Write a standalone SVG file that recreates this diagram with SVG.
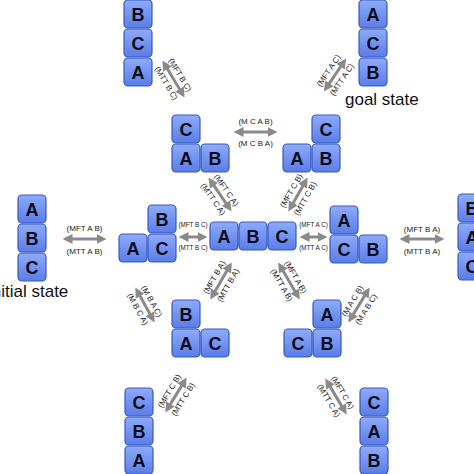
<svg xmlns="http://www.w3.org/2000/svg" width="474" height="474" viewBox="0 0 474 474">
<style>
.blk{fill:url(#bg);stroke:#3a58c0;stroke-width:1.2}
.lt{font-family:"Liberation Sans",Arial,sans-serif;font-weight:bold;font-size:18px;fill:#0d0d1a;text-anchor:middle}
.arr{stroke:#8a8a8a;stroke-width:3;fill:none;marker-start:url(#ah);marker-end:url(#ah)}
.lb{font-family:"Liberation Sans",Arial,sans-serif;font-size:8px;fill:#1a1a1a;text-anchor:middle}
.sm{font-size:6.3px}
.st{font-family:"Liberation Sans",Arial,sans-serif;font-size:17px;fill:#111}
</style>
<defs>
<linearGradient id="bg" x1="0" y1="0" x2="0" y2="1">
<stop offset="0" stop-color="#8eabfa"/>
<stop offset="1" stop-color="#5a7de6"/>
</linearGradient>
<marker id="ah" markerUnits="userSpaceOnUse" viewBox="0 0 10 10" refX="0.5" refY="5" markerWidth="10" markerHeight="10" orient="auto-start-reverse">
<path d="M0,0 L10,5 L0,10 z" fill="#8a8a8a"/>
</marker>
</defs>
<rect width="474" height="474" fill="#fff"/>

<g id="s-BCA-top">
<rect class="blk" x="124" y="0" width="28" height="28" rx="4"/><text class="lt" x="138" y="20.5">B</text>
<rect class="blk" x="124" y="29" width="28" height="28" rx="4"/><text class="lt" x="138" y="49.5">C</text>
<rect class="blk" x="124" y="58" width="28" height="28" rx="4"/><text class="lt" x="138" y="78.5">A</text>
</g>
<g id="s-ACB-goal">
<rect class="blk" x="359" y="0" width="28" height="28" rx="4"/><text class="lt" x="373" y="20.5">A</text>
<rect class="blk" x="359" y="29" width="28" height="28" rx="4"/><text class="lt" x="373" y="49.5">C</text>
<rect class="blk" x="359" y="58" width="28" height="28" rx="4"/><text class="lt" x="373" y="78.5">B</text>
<text class="st" x="345" y="105">goal state</text>
</g>
<g id="s-CA-B">
<rect class="blk" x="172" y="115" width="28" height="28" rx="4"/><text class="lt" x="186" y="135.5">C</text>
<rect class="blk" x="172" y="144" width="28" height="28" rx="4"/><text class="lt" x="186" y="164.5">A</text>
<rect class="blk" x="201" y="144" width="28" height="28" rx="4"/><text class="lt" x="215" y="164.5">B</text>
</g>
<g id="s-A-CB">
<rect class="blk" x="312" y="115" width="28" height="28" rx="4"/><text class="lt" x="326" y="135.5">C</text>
<rect class="blk" x="283" y="144" width="28" height="28" rx="4"/><text class="lt" x="297" y="164.5">A</text>
<rect class="blk" x="312" y="144" width="28" height="28" rx="4"/><text class="lt" x="326" y="164.5">B</text>
</g>
<g id="s-ABC-initial">
<rect class="blk" x="18" y="195" width="28" height="28" rx="4"/><text class="lt" x="32" y="215.5">A</text>
<rect class="blk" x="18" y="224" width="28" height="28" rx="4"/><text class="lt" x="32" y="244.5">B</text>
<rect class="blk" x="18" y="253" width="28" height="28" rx="4"/><text class="lt" x="32" y="273.5">C</text>
<text class="st" x="-12" y="297">initial state</text>
</g>
<g id="s-A-BC">
<rect class="blk" x="148" y="205" width="28" height="28" rx="4"/><text class="lt" x="162" y="225.5">B</text>
<rect class="blk" x="119" y="234" width="28" height="28" rx="4"/><text class="lt" x="133" y="254.5">A</text>
<rect class="blk" x="148" y="234" width="28" height="28" rx="4"/><text class="lt" x="162" y="254.5">C</text>
</g>
<g id="s-A-B-C">
<rect class="blk" x="210" y="222" width="28" height="28" rx="4"/><text class="lt" x="224" y="242.5">A</text>
<rect class="blk" x="239" y="222" width="28" height="28" rx="4"/><text class="lt" x="253" y="242.5">B</text>
<rect class="blk" x="268" y="222" width="28" height="28" rx="4"/><text class="lt" x="282" y="242.5">C</text>
</g>
<g id="s-AC-B">
<rect class="blk" x="330" y="206" width="28" height="28" rx="4"/><text class="lt" x="344" y="226.5">A</text>
<rect class="blk" x="330" y="235" width="28" height="28" rx="4"/><text class="lt" x="344" y="255.5">C</text>
<rect class="blk" x="359" y="235" width="28" height="28" rx="4"/><text class="lt" x="373" y="255.5">B</text>
</g>
<g id="s-BAC-right">
<rect class="blk" x="458" y="194" width="28" height="28" rx="4"/><text class="lt" x="472" y="214.5">B</text>
<rect class="blk" x="458" y="223" width="28" height="28" rx="4"/><text class="lt" x="472" y="243.5">A</text>
<rect class="blk" x="458" y="252" width="28" height="28" rx="4"/><text class="lt" x="472" y="272.5">C</text>
</g>
<g id="s-BA-C">
<rect class="blk" x="172" y="300" width="28" height="28" rx="4"/><text class="lt" x="186" y="320.5">B</text>
<rect class="blk" x="172" y="329" width="28" height="28" rx="4"/><text class="lt" x="186" y="349.5">A</text>
<rect class="blk" x="201" y="329" width="28" height="28" rx="4"/><text class="lt" x="215" y="349.5">C</text>
</g>
<g id="s-C-AB">
<rect class="blk" x="313" y="300" width="28" height="28" rx="4"/><text class="lt" x="327" y="320.5">A</text>
<rect class="blk" x="284" y="329" width="28" height="28" rx="4"/><text class="lt" x="298" y="349.5">C</text>
<rect class="blk" x="313" y="329" width="28" height="28" rx="4"/><text class="lt" x="327" y="349.5">B</text>
</g>
<g id="s-CBA-bottom">
<rect class="blk" x="125" y="388" width="28" height="28" rx="4"/><text class="lt" x="139" y="408.5">C</text>
<rect class="blk" x="125" y="417" width="28" height="28" rx="4"/><text class="lt" x="139" y="437.5">B</text>
<rect class="blk" x="125" y="446" width="28" height="28" rx="4"/><text class="lt" x="139" y="466.5">A</text>
</g>
<g id="s-CAB-bottom">
<rect class="blk" x="360" y="388" width="28" height="28" rx="4"/><text class="lt" x="374" y="408.5">C</text>
<rect class="blk" x="360" y="417" width="28" height="28" rx="4"/><text class="lt" x="374" y="437.5">A</text>
<rect class="blk" x="360" y="446" width="28" height="28" rx="4"/><text class="lt" x="374" y="466.5">B</text>
</g>

<g id="connectors">
<g transform="translate(173.5,79) rotate(58.8)"><line class="arr" x1="-12" y1="0" x2="12" y2="0"/><text class="lb" y="-5">(MFT B C)</text><text class="lb" y="11">(MTT B C)</text></g>
<g transform="translate(335,75) rotate(-56)"><line class="arr" x1="-10.5" y1="0" x2="10.5" y2="0"/><text class="lb" y="-5">(MFT A C)</text><text class="lb" y="11">(MTT A C)</text></g>
<g transform="translate(255.5,132)"><line class="arr" x1="-12.5" y1="0" x2="12.5" y2="0"/><text class="lb" y="-8">(M C A B)</text><text class="lb" y="14">(M C B A)</text></g>
<g transform="translate(220,194.5) rotate(55.6)"><line class="arr" x1="-11" y1="0" x2="11" y2="0"/><text class="lb" y="-5">(MFT C A)</text><text class="lb" y="11">(MTT C A)</text></g>
<g transform="translate(298,194.5) rotate(-60.3)"><line class="arr" x1="-10" y1="0" x2="10" y2="0"/><text class="lb" y="-5">(MFT C B)</text><text class="lb" y="11">(MTT C B)</text></g>
<g transform="translate(84.5,239)"><line class="arr" x1="-12.5" y1="0" x2="12.5" y2="0"/><text class="lb" y="-8">(MFT A B)</text><text class="lb" y="15">(MTT A B)</text></g>
<g transform="translate(193,237)"><line class="arr" x1="-5" y1="0" x2="5" y2="0"/><text class="lb sm" y="-10">(MFT B C)</text><text class="lb sm" y="13">(MTT B C)</text></g>
<g transform="translate(313.5,237)"><line class="arr" x1="-4.5" y1="0" x2="4.5" y2="0"/><text class="lb sm" y="-10">(MFT A C)</text><text class="lb sm" y="13">(MTT A C)</text></g>
<g transform="translate(422,239)"><line class="arr" x1="-13" y1="0" x2="13" y2="0"/><text class="lb" y="-7">(MFT B A)</text><text class="lb" y="15">(MTT B A)</text></g>
<g transform="translate(221,281) rotate(-60)"><line class="arr" x1="-12" y1="0" x2="12" y2="0"/><text class="lb" y="-5">(MFT B A)</text><text class="lb" y="11">(MTT B A)</text></g>
<g transform="translate(289,281) rotate(60)"><line class="arr" x1="-12" y1="0" x2="12" y2="0"/><text class="lb" y="-5">(MFT A B)</text><text class="lb" y="11">(MTT A B)</text></g>
<g transform="translate(145,305) rotate(61)"><line class="arr" x1="-10.5" y1="0" x2="10.5" y2="0"/><text class="lb" y="-5">(M B A C)</text><text class="lb" y="11">(M B C A)</text></g>
<g transform="translate(359,305) rotate(-58.6)"><line class="arr" x1="-11" y1="0" x2="11" y2="0"/><text class="lb" y="-5">(M A C B)</text><text class="lb" y="11">(M A B C)</text></g>
<g transform="translate(176,395) rotate(-58.6)"><line class="arr" x1="-11" y1="0" x2="11" y2="0"/><text class="lb" y="-5">(MFT C B)</text><text class="lb" y="11">(MTT C B)</text></g>
<g transform="translate(336,396.5) rotate(59.3)"><line class="arr" x1="-11.5" y1="0" x2="11.5" y2="0"/><text class="lb" y="-5">(MFT C A)</text><text class="lb" y="11">(MTT C A)</text></g>
</g>
</svg>
